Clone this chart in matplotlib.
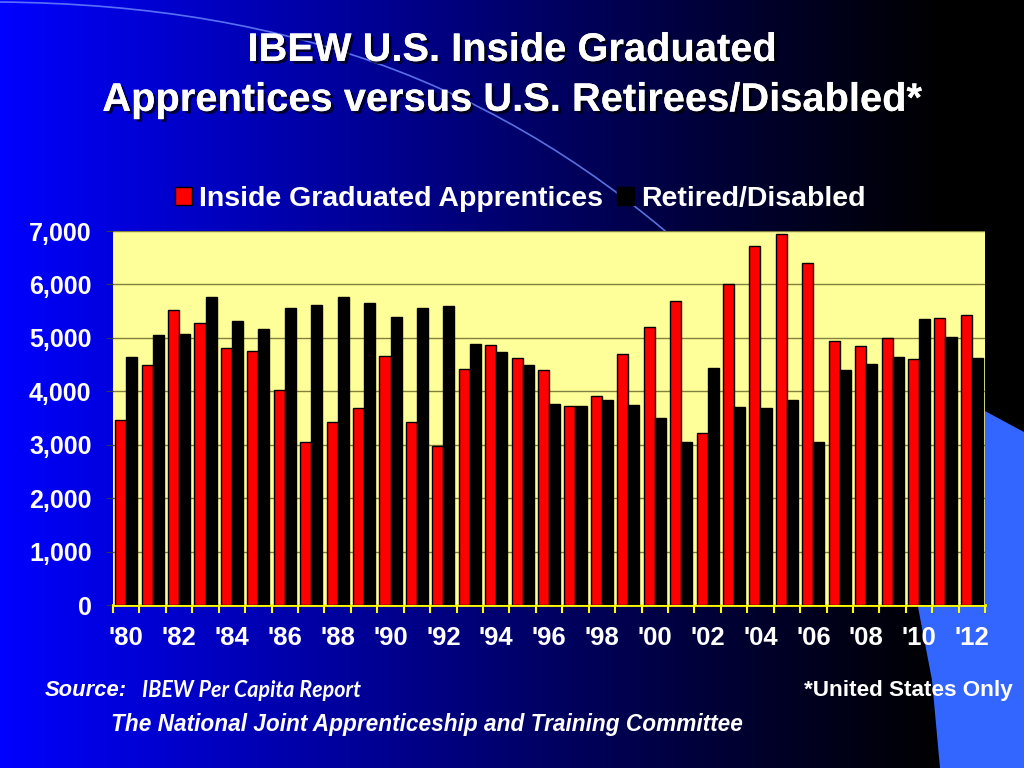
import numpy as np
import matplotlib.pyplot as plt
import matplotlib.patheffects as pe
from matplotlib.patches import Polygon, PathPatch
from matplotlib.path import Path
from matplotlib.ticker import FuncFormatter

years = list(range(1980, 2013))
apprentices = [3460, 4500, 5530, 5280, 4810, 4750, 4025, 3050, 3420, 3690,
               4655, 3420, 2980, 4410, 4860, 4625, 4400, 3730, 3920, 4705,
               5200, 5690, 3220, 6010, 6720, 6950, 6410, 4945, 4845, 5005,
               4600, 5380, 5430]
retired = [4640, 5050, 5080, 5760, 5320, 5170, 5555, 5610, 5770, 5655,
           5395, 5565, 5595, 4880, 4740, 4495, 3760, 3720, 3830, 3750,
           3495, 3050, 4430, 3705, 3695, 3830, 3050, 4390, 4510, 4650,
           5355, 5010, 4620]
tick_labels = ["'%02d" % (y % 100) for y in years[::2]]

plt.rcParams['font.family'] = ['Liberation Sans', 'DejaVu Sans']

fig = plt.figure(figsize=(10.24, 7.68), dpi=100)

# background: blue -> black gradient
bg = fig.add_axes([0, 0, 1, 1], zorder=-10)
grad = np.linspace(0, 1, 512)
r = np.clip(1 - grad / 0.93, 0, 1)
img = np.zeros((2, 512, 3))
img[:, :, 2] = r ** 1.1
bg.imshow(img, aspect='auto', extent=[0, 1024, 768, 0])
bg.set_xlim(0, 1024)
bg.set_ylim(768, 0)
bg.axis('off')
# decorations
bg.add_patch(Polygon([(983, 410), (1024, 432), (1024, 768), (940, 768),
                      (932, 680), (918, 607), (960, 480)],
                     closed=True, fc='#3366ff', ec='none'))
arc = Path([(0, 2), (300, 5), (520, 90), (720, 280)],
           [Path.MOVETO, Path.CURVE4, Path.CURVE4, Path.CURVE4])
bg.add_patch(PathPatch(arc, fc='none', ec='#6f8cff', lw=1.2, alpha=0.8))

ax = fig.add_axes([0.1104, 0.2122, 0.8516, 0.487])
ax.set_facecolor('#ffff99')
x = np.arange(len(years))
w = 0.42
ax.bar(x - w / 2, apprentices, w, color='#ff0000', edgecolor='black', lw=1,
       label='Inside Graduated Apprentices', zorder=3)
ax.bar(x + w / 2, retired, w, color='#000000', edgecolor='black', lw=1,
       label='Retired/Disabled', zorder=3)
ax.set_xlim(-0.5, len(years) - 0.5)
ax.set_ylim(0, 7000)
ax.set_yticks(range(0, 7001, 1000))
ax.yaxis.set_major_formatter(FuncFormatter(lambda v, p: '{:,.0f}'.format(v)))
ax.grid(axis='y', color='#808040', lw=1, zorder=1)
ax.set_xticks(x[::2])
ax.set_xticklabels(tick_labels)
ax.set_xticks(np.arange(-0.5, len(years)), minor=True)
ax.tick_params(axis='x', which='major', length=0, pad=15, labelsize=18.5,
               labelcolor='white')
ax.tick_params(axis='x', which='minor', length=6, width=1.5, color='#ffff00',
               direction='out')
ax.tick_params(axis='y', length=5, color='#333355', pad=10.5, labelsize=18,
               labelcolor='white')
for lab in ax.get_xticklabels() + ax.get_yticklabels():
    lab.set_fontweight('bold')
for s in ['top', 'right', 'left']:
    ax.spines[s].set_visible(False)
ax.spines['bottom'].set_color('#ffff00')
ax.spines['bottom'].set_linewidth(2)

leg = fig.legend(loc='center', bbox_to_anchor=(0.508, 0.741), ncol=2,
                 frameon=False, prop={'size': 20.5, 'weight': 'bold'},
                 handlelength=0.6, handleheight=0.6, handletextpad=0.25,
                 columnspacing=0.5)
for t in leg.get_texts():
    t.set_color('white')

shadow = [pe.withSimplePatchShadow(offset=(2, -2), shadow_rgbFace='black',
                                   alpha=0.7), pe.Normal()]
fig.text(0.5, 0.935, 'IBEW U.S. Inside Graduated', ha='center', va='center',
         fontsize=28.7, fontweight='bold', color='white', path_effects=shadow)
fig.text(0.5, 0.870, 'Apprentices versus U.S. Retirees/Disabled*',
         ha='center', va='center', fontsize=28.7, fontweight='bold',
         color='white', path_effects=shadow)

fig.text(0.044, 0.101, 'Source:', ha='left', va='center', fontsize=15.8,
         fontweight='bold', fontstyle='italic', color='white')
fig.text(0.139, 0.101, 'IBEW Per Capita Report', ha='left', va='center',
         fontsize=15.5, fontweight='bold', fontstyle='italic', color='white',
         family=['Lato', 'DejaVu Sans'])
fig.text(0.108, 0.057, 'The National Joint Apprenticeship and Training Committee',
         ha='left', va='center', fontsize=16.3, fontweight='bold',
         fontstyle='italic', color='white')
fig.text(0.989, 0.101, '*United States Only', ha='right', va='center',
         fontsize=16.2, fontweight='bold', color='white')

fig.savefig('out.png', dpi=100)
